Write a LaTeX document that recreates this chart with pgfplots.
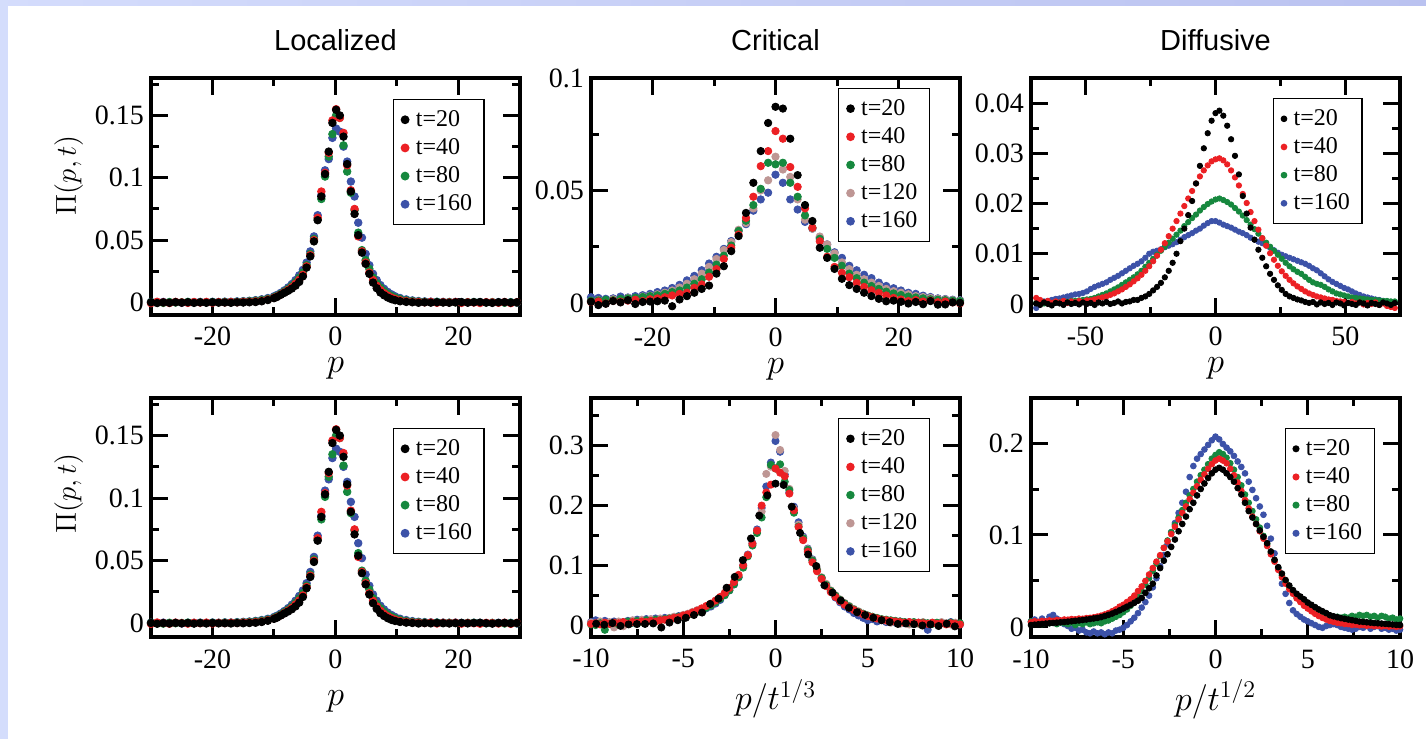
\documentclass[border=0pt]{standalone}
\usepackage{fontspec}
\setmainfont{Liberation Serif}
\newfontfamily\titlefont{Liberation Sans}
\usepackage{pgfplots}
\usepackage{pgfplotstable}
\pgfplotsset{compat=1.18}
\definecolor{cred}{RGB}{236,32,36}
\definecolor{cgreen}{RGB}{22,136,62}
\definecolor{cpink}{RGB}{190,150,148}
\definecolor{cblue}{RGB}{60,82,168}
\definecolor{bgl}{RGB}{212,221,252}
\definecolor{bgta}{RGB}{212,220,252}
\definecolor{bgtb}{RGB}{186,194,240}

\pgfplotsset{panel/.style={
  scale only axis, width=184.5pt,
  axis line style={line width=2pt, line cap=rect},
  tick style={line width=1.5pt, black},
  major tick length=8.5pt, minor tick length=4pt,
  tick align=inside,
  axis on top,
  scaled ticks=false,
  tick label style={font=\fontsize{14}{16}\selectfont},
  xticklabel style={anchor=base, yshift=-15.5pt, inner sep=0pt},
  xlabel style={at={(axis description cs:0.5,0)}, anchor=base, inner sep=0pt, font=\fontsize{16.5}{19}\selectfont},
  ylabel style={anchor=center, font=\fontsize{14}{16}\selectfont},
  title style={at={(axis description cs:0.5,1)}, anchor=base, yshift=8pt, font=\titlefont\fontsize{14.5}{17}\selectfont},
  legend cell align=left, reverse legend,
  legend style={anchor=north west, draw=black, line width=0.6pt, fill=white,
     inner xsep=4pt, inner ysep=3.3pt, row sep=0.6pt,
     font=\fontsize{12}{14}\selectfont,
     nodes={inner sep=2pt, text depth=0.15em},
     /tikz/every odd column/.append style={column sep=1.5pt}},
  legend image code/.code={\draw[#1] plot coordinates {(0pt,0pt)};},
}}

% Localized: p, t=20, t=40, t=80, t=160
\pgfplotstableread{
x b r g u
-30 0.0002 -0.0005 0.0003 0.0004
-29 -0.0004 0.0006 0.0001 0.0002
-28 0.0001 0.0002 -0.0003 0.0005
-27 -0.0002 -0.0004 0.0004 0.0001
-26 0.0003 0.0005 0.0000 0.0003
-25 -0.0001 0.0001 0.0002 -0.0002
-24 0.0002 -0.0003 0.0005 0.0004
-23 -0.0003 0.0004 0.0001 0.0003
-22 0.0001 0.0000 0.0003 0.0005
-21 -0.0002 0.0005 0.0002 0.0002
-20 0.0002 -0.0002 0.0004 0.0006
-19 -0.0001 0.0003 0.0003 0.0004
-18 0.0000 0.0001 0.0005 0.0007
-17 -0.0002 0.0004 0.0004 0.0006
-16 0.0001 0.0002 0.0006 0.0009
-15 0.0000 0.0005 0.0008 0.0011
-14 0.0002 0.0006 0.0011 0.0014
-13 0.0004 0.0009 0.0015 0.0019
-12 0.0010 0.0014 0.0021 0.0026
-11 0.0020 0.0024 0.0030 0.0036
-10 0.0035 0.0038 0.0043 0.0050
-9.5 0.0045 0.0048 0.0054 0.0061
-8.9 0.0062 0.0064 0.0070 0.0078
-8.3 0.0078 0.0082 0.0089 0.0098
-7.7 0.0094 0.0101 0.0110 0.0121
-7.1 0.0112 0.0123 0.0134 0.0148
-6.5 0.0135 0.0150 0.0163 0.0180
-5.9 0.0165 0.0182 0.0198 0.0218
-5.3 0.0210 0.0222 0.0240 0.0262
-4.7 0.0280 0.0290 0.0300 0.0320
-4.1 0.0370 0.0380 0.0390 0.0410
-3.5 0.0490 0.0500 0.0510 0.0530
-2.9 0.0660 0.0680 0.0670 0.0700
-2.3 0.0850 0.0890 0.0830 0.0860
-1.7 0.1030 0.1040 0.1010 0.1060
-1.1 0.1210 0.1200 0.1170 0.1150
-0.5 0.1440 0.1460 0.1350 0.1320
0.1 0.1545 0.1550 0.1500 0.1395
0.7 0.1500 0.1480 0.1480 0.1370
1.3 0.1330 0.1360 0.1260 0.1250
1.9 0.1110 0.1100 0.1050 0.1130
2.5 0.0890 0.0900 0.0880 0.0970
3.1 0.0710 0.0750 0.0740 0.0850
3.7 0.0540 0.0530 0.0560 0.0640
4.3 0.0400 0.0410 0.0420 0.0520
4.9 0.0310 0.0320 0.0340 0.0390
5.5 0.0230 0.0240 0.0270 0.0300
6.1 0.0160 0.0180 0.0200 0.0230
6.7 0.0115 0.0135 0.0155 0.0180
7.3 0.0080 0.0100 0.0120 0.0140
7.9 0.0058 0.0075 0.0092 0.0110
8.5 0.0040 0.0055 0.0070 0.0085
9.1 0.0027 0.0040 0.0053 0.0066
9.7 0.0018 0.0028 0.0040 0.0050
10.5 0.0010 0.0018 0.0028 0.0036
11.5 0.0005 0.0011 0.0018 0.0025
12.5 0.0002 0.0006 0.0012 0.0017
13.5 -0.0002 0.0004 0.0008 0.0012
14.5 0.0001 0.0002 0.0006 0.0009
15.5 -0.0001 0.0005 0.0004 0.0007
16.5 0.0002 -0.0002 0.0005 0.0006
17.5 0.0000 0.0003 0.0003 0.0005
18.5 -0.0002 0.0001 0.0004 0.0004
19.5 0.0001 0.0004 0.0002 0.0005
20.5 0.0003 -0.0003 0.0001 0.0003
21.5 -0.0001 0.0002 0.0003 0.0002
22.5 0.0002 0.0000 0.0004 0.0004
23.5 0.0004 -0.0004 0.0002 0.0003
24.5 0.0000 0.0003 0.0000 0.0001
25.5 -0.0003 0.0001 0.0003 0.0002
26.5 0.0002 -0.0002 0.0001 0.0004
27.5 0.0003 0.0004 -0.0002 0.0001
28.5 -0.0001 -0.0005 0.0002 0.0003
29.5 0.0002 0.0003 0.0000 -0.0002
}\tLoc

% Critical, top: p, t=20, 40, 80, 120, 160
\pgfplotstableread{
x b r g k u
-30.0 0.0005 0.0004 0.0010 0.0008 0.0025
-28.8 -0.0010 0.0006 0.0011 0.0012 0.0022
-27.6 -0.0004 -0.0003 0.0014 0.0010 0.0018
-26.4 0.0008 0.0009 0.0012 0.0016 0.0020
-25.2 0.0002 0.0005 0.0018 0.0014 0.0028
-24.0 0.0012 0.0010 0.0020 0.0022 0.0024
-22.8 -0.0005 0.0014 0.0023 0.0020 0.0030
-21.6 0.0004 0.0008 0.0026 0.0028 0.0034
-20.4 0.0006 0.0016 0.0030 0.0032 0.0040
-19.2 0.0007 0.0020 0.0034 0.0038 0.0048
-18.0 0.0010 0.0025 0.0040 0.0045 0.0055
-16.8 -0.0015 0.0033 0.0048 0.0055 0.0066
-15.6 0.0015 0.0040 0.0055 0.0068 0.0080
-14.4 0.0030 0.0045 0.0068 0.0085 0.0100
-13.2 0.0045 0.0067 0.0085 0.0105 0.0120
-12.0 0.0062 0.0082 0.0105 0.0130 0.0145
-10.8 0.0077 0.0116 0.0135 0.0160 0.0175
-9.6 0.0130 0.0150 0.0170 0.0195 0.0205
-8.4 0.0163 0.0195 0.0210 0.0235 0.0240
-7.2 0.0230 0.0245 0.0255 0.0270 0.0275
-6.0 0.0297 0.0304 0.0320 0.0325 0.0320
-4.8 0.0400 0.0378 0.0365 0.0355 0.0350
-3.6 0.0534 0.0472 0.0435 0.0420 0.0410
-2.4 0.0675 0.0608 0.0507 0.0500 0.0460
-1.2 0.0800 0.0675 0.0623 0.0545 0.0490
0.0 0.0872 0.0764 0.0616 0.0650 0.0570
1.2 0.0864 0.0730 0.0623 0.0593 0.0534
2.4 0.0730 0.0604 0.0534 0.0560 0.0460
3.6 0.0568 0.0516 0.0472 0.0460 0.0415
4.8 0.0435 0.0420 0.0389 0.0370 0.0360
6.0 0.0364 0.0334 0.0334 0.0330 0.0330
7.2 0.0245 0.0274 0.0285 0.0295 0.0290
8.4 0.0200 0.0205 0.0240 0.0260 0.0260
9.6 0.0151 0.0160 0.0200 0.0220 0.0225
10.8 0.0107 0.0134 0.0165 0.0180 0.0200
12.0 0.0079 0.0114 0.0130 0.0150 0.0165
13.2 0.0062 0.0089 0.0110 0.0125 0.0145
14.4 0.0045 0.0071 0.0090 0.0105 0.0125
15.6 0.0030 0.0056 0.0075 0.0090 0.0110
16.8 0.0018 0.0045 0.0062 0.0075 0.0090
18.0 0.0007 0.0033 0.0050 0.0062 0.0075
19.2 0.0010 0.0022 0.0042 0.0052 0.0065
20.4 0.0005 0.0015 0.0035 0.0045 0.0055
21.6 -0.0003 0.0008 0.0028 0.0038 0.0045
22.8 0.0004 0.0012 0.0024 0.0030 0.0040
24.0 -0.0006 0.0006 0.0020 0.0026 0.0032
25.2 0.0008 0.0010 0.0016 0.0022 0.0026
26.4 -0.0008 0.0003 0.0014 0.0018 0.0020
27.6 -0.0007 0.0006 0.0012 0.0015 0.0017
28.8 0.0002 0.0002 0.0010 0.0012 0.0014
30.0 0.0000 -0.0002 0.0008 0.0010 0.0012
}\tCrit

% Diffusive, top: p, t=20, 40, 80, 160
\pgfplotstableread{
x b r g u
-69 0.0001 0.0012 0.0002 -0.0008
-67.5 -0.0002 0.0008 0.0004 0.0003
-66 0.0003 0.0004 0.0001 0.0005
-64.5 0.0000 0.0006 0.0003 0.0006
-63 -0.0003 0.0002 0.0002 0.0008
-61.5 0.0002 0.0005 0.0004 0.0010
-60 0.0001 0.0003 0.0003 0.0011
-58.5 -0.0002 0.0006 0.0005 0.0013
-57 0.0003 0.0002 0.0004 0.0015
-55.5 0.0000 0.0005 0.0006 0.0017
-54 0.0002 0.0003 0.0006 0.0019
-52.5 -0.0001 0.0006 0.0007 0.0020
-51 0.0003 0.0004 0.0008 0.0022
-49.5 0.0000 0.0007 0.0009 0.0025
-48 0.0002 0.0007 0.0010 0.0030
-46.5 -0.0002 0.0009 0.0012 0.0034
-45 0.0003 0.0011 0.0015 0.0037
-43.5 0.0001 0.0013 0.0018 0.0040
-42 0.0004 0.0015 0.0021 0.0043
-40.5 0.0000 0.0018 0.0025 0.0048
-39 0.0002 0.0021 0.0029 0.0052
-37.5 0.0005 0.0025 0.0033 0.0056
-36 0.0001 0.0029 0.0038 0.0061
-34.5 0.0004 0.0034 0.0043 0.0066
-33 0.0005 0.0039 0.0048 0.0071
-31.5 0.0008 0.0045 0.0053 0.0076
-30 0.0008 0.0051 0.0059 0.0080
-28.5 0.0012 0.0058 0.0066 0.0085
-27 0.0015 0.0066 0.0074 0.0092
-25.5 0.0020 0.0075 0.0082 0.0100
-24 0.0027 0.0085 0.0090 0.0104
-22.5 0.0034 0.0096 0.0098 0.0106
-21 0.0042 0.0108 0.0106 0.0109
-19.5 0.0053 0.0121 0.0114 0.0113
-18 0.0066 0.0135 0.0122 0.0116
-16.5 0.0082 0.0150 0.0130 0.0119
-15 0.0100 0.0165 0.0138 0.0123
-13.5 0.0125 0.0180 0.0146 0.0128
-12 0.0150 0.0195 0.0155 0.0133
-10.5 0.0177 0.0210 0.0163 0.0137
-9 0.0205 0.0225 0.0171 0.0141
-7.5 0.0240 0.0240 0.0178 0.0146
-6 0.0275 0.0254 0.0186 0.0150
-4.5 0.0310 0.0266 0.0193 0.0156
-3 0.0340 0.0276 0.0199 0.0161
-1.5 0.0365 0.0284 0.0204 0.0165
0 0.0380 0.0288 0.0208 0.0165
1.5 0.0385 0.0290 0.0210 0.0162
3 0.0375 0.0286 0.0207 0.0158
4.5 0.0355 0.0278 0.0203 0.0155
6 0.0328 0.0266 0.0198 0.0152
7.5 0.0295 0.0252 0.0191 0.0148
9 0.0258 0.0236 0.0184 0.0144
10.5 0.0215 0.0219 0.0176 0.0141
12 0.0180 0.0201 0.0167 0.0137
13.5 0.0152 0.0183 0.0158 0.0132
15 0.0128 0.0165 0.0149 0.0128
16.5 0.0108 0.0148 0.0140 0.0124
18 0.0092 0.0131 0.0131 0.0121
19.5 0.0075 0.0116 0.0122 0.0117
21 0.0060 0.0101 0.0114 0.0112
22.5 0.0048 0.0088 0.0106 0.0107
24 0.0037 0.0076 0.0098 0.0102
25.5 0.0028 0.0065 0.0090 0.0098
27 0.0020 0.0056 0.0082 0.0095
28.5 0.0015 0.0048 0.0075 0.0092
30 0.0012 0.0041 0.0069 0.0089
31.5 0.0009 0.0035 0.0064 0.0086
33 0.0007 0.0030 0.0060 0.0083
34.5 0.0004 0.0025 0.0054 0.0080
36 0.0002 0.0021 0.0048 0.0076
37.5 0.0004 0.0018 0.0043 0.0071
39 -0.0001 0.0015 0.0040 0.0067
40.5 0.0003 0.0013 0.0038 0.0061
42 0.0000 0.0011 0.0034 0.0055
43.5 0.0002 0.0009 0.0029 0.0049
45 -0.0002 0.0008 0.0025 0.0044
46.5 0.0003 0.0006 0.0021 0.0040
48 0.0001 0.0005 0.0019 0.0036
49.5 -0.0003 0.0004 0.0017 0.0032
51 0.0002 0.0002 0.0015 0.0029
52.5 0.0000 0.0004 0.0013 0.0025
54 -0.0002 0.0001 0.0012 0.0021
55.5 0.0003 0.0003 0.0011 0.0018
57 0.0001 -0.0001 0.0010 0.0015
58.5 -0.0003 0.0002 0.0009 0.0013
60 0.0002 0.0000 0.0008 0.0011
61.5 0.0000 0.0003 0.0008 0.0009
63 -0.0002 -0.0002 0.0007 0.0008
64.5 0.0003 0.0001 0.0006 0.0006
66 0.0001 -0.0004 0.0006 0.0005
67.5 -0.0002 -0.0006 0.0005 0.0004
69 0.0002 -0.0008 0.0005 0.0003
}\tDiff

% Critical, rescaled, t=20
\pgfplotstableread{
x y
-9.72 0.0022
-9.28 0.0005
-8.84 0.0033
-8.40 -0.0014
-7.96 0.0011
-7.51 0.0016
-7.07 0.0019
-6.63 0.0027
-6.19 -0.0041
-5.75 0.0041
-5.30 0.0081
-4.86 0.0122
-4.42 0.0168
-3.98 0.0209
-3.54 0.0353
-3.09 0.0442
-2.65 0.0624
-2.21 0.0806
-1.77 0.1086
-1.33 0.1449
-0.88 0.1832
-0.44 0.2171
0.00 0.2367
0.44 0.2345
0.88 0.1981
1.33 0.1542
1.77 0.1181
2.21 0.0988
2.65 0.0665
3.09 0.0543
3.54 0.0410
3.98 0.0290
4.42 0.0214
4.86 0.0168
5.30 0.0122
5.75 0.0081
6.19 0.0049
6.63 0.0019
7.07 0.0027
7.51 0.0014
7.96 -0.0008
8.40 0.0011
8.84 -0.0016
9.28 0.0022
9.72 -0.0022
}\tCbB

% Critical, rescaled, t=40, 80, 120, 160
\pgfplotstableread{
x r g k u
-10 0.002 0.001 0.004 0.005
-9.75 0.003 0.000 0.001 0.008
-9.5 0.001 0.003 0.006 0.004
-9.25 0.004 -0.008 0.003 0.007
-9 0.002 0.002 0.005 0.003
-8.75 0.004 0.004 -0.004 0.006
-8.5 0.003 0.001 0.006 0.002
-8.25 0.005 0.004 -0.002 0.005
-8 0.002 0.006 0.005 0.007
-7.75 0.005 0.004 0.008 0.004
-7.5 0.004 0.007 0.003 0.009
-7.25 0.006 0.005 0.009 0.006
-7 0.005 0.008 0.006 0.010
-6.75 0.007 0.006 0.010 0.007
-6.5 0.006 0.009 0.008 0.011
-6.25 0.008 0.008 0.011 0.009
-6 0.009 0.010 0.009 0.012
-5.75 0.010 0.011 0.012 0.010
-5.5 0.012 0.012 0.014 0.013
-5.25 0.013 0.014 0.013 0.015
-5 0.016 0.015 0.017 0.016
-4.75 0.018 0.017 0.019 0.018
-4.5 0.021 0.019 0.022 0.020
-4.25 0.024 0.022 0.025 0.023
-4 0.028 0.026 0.027 0.025
-3.75 0.032 0.029 0.030 0.028
-3.5 0.036 0.033 0.034 0.031
-3.25 0.041 0.038 0.040 0.036
-3 0.047 0.044 0.046 0.042
-2.75 0.054 0.050 0.052 0.050
-2.5 0.062 0.058 0.060 0.058
-2.25 0.072 0.068 0.070 0.068
-2 0.084 0.080 0.082 0.080
-1.75 0.100 0.096 0.098 0.100
-1.5 0.117 0.115 0.117 0.118
-1.25 0.136 0.133 0.136 0.137
-1 0.158 0.154 0.158 0.160
-0.75 0.200 0.180 0.190 0.196
-0.5 0.222 0.214 0.253 0.232
-0.25 0.235 0.268 0.265 0.272
0 0.262 0.262 0.318 0.308
0.25 0.255 0.269 0.293 0.290
0.5 0.249 0.240 0.258 0.252
0.75 0.220 0.226 0.228 0.222
1 0.192 0.188 0.195 0.198
1.25 0.164 0.165 0.168 0.172
1.5 0.142 0.145 0.146 0.148
1.75 0.123 0.126 0.127 0.128
2 0.105 0.108 0.109 0.110
2.25 0.090 0.092 0.094 0.093
2.5 0.077 0.079 0.080 0.079
2.75 0.065 0.067 0.069 0.066
3 0.055 0.057 0.058 0.056
3.25 0.047 0.049 0.050 0.046
3.5 0.040 0.042 0.043 0.038
3.75 0.034 0.036 0.037 0.031
4 0.029 0.031 0.032 0.026
4.25 0.025 0.026 0.027 0.020
4.5 0.021 0.022 0.023 0.016
4.75 0.018 0.019 0.019 0.012
5 0.015 0.016 0.016 0.008
5.25 0.013 0.014 0.013 0.010
5.5 0.011 0.012 0.011 0.006
5.75 0.009 0.010 0.009 0.008
6 0.008 0.009 0.007 0.005
6.25 0.007 0.008 0.004 0.007
6.5 0.006 0.007 0.006 0.004
6.75 0.005 0.006 0.002 0.006
7 0.004 0.005 0.005 0.003
7.25 0.005 0.004 0.001 0.005
7.5 0.003 0.005 0.004 0.002
7.75 0.004 0.003 0.002 0.004
8 0.003 0.004 0.005 0.001
8.25 0.002 0.003 0.003 -0.008
8.5 0.004 0.002 0.004 0.003
8.75 0.002 0.004 0.002 0.002
9 0.003 0.003 0.005 0.004
9.25 0.001 0.002 0.003 0.002
9.5 0.003 0.004 0.001 0.005
9.75 0.002 0.002 0.004 0.003
10 0.001 0.003 0.002 0.001
}\tCbO

% Diffusive, rescaled: t=20, 40, 80, 160
\pgfplotstableread{
x b r g u
-10.0 0.0020 0.0050 0.006 0.006
-9.8 0.0024 0.0060 0.004 0.008
-9.6 0.0028 0.0055 0.005 0.004
-9.4 0.0032 0.0065 0.003 0.009
-9.2 0.0036 0.0060 0.005 0.006
-9.0 0.0040 0.0070 0.004 0.011
-8.8 0.0043 0.0065 0.006 0.013
-8.6 0.0046 0.0075 0.003 0.009
-8.4 0.0050 0.0070 0.005 0.006
-8.2 0.0053 0.0080 0.004 0.003
-8.0 0.0057 0.0078 0.003 0.001
-7.8 0.0061 0.0085 0.005 -0.002
-7.6 0.0066 0.0082 0.002 -0.001
-7.4 0.0070 0.0090 0.004 -0.004
-7.2 0.0075 0.0088 0.003 -0.003
-7.0 0.0080 0.0095 0.005 -0.006
-6.8 0.0086 0.0098 0.003 -0.007
-6.6 0.0092 0.0104 0.004 -0.005
-6.4 0.0098 0.0112 0.005 -0.007
-6.2 0.0106 0.0122 0.004 -0.006
-6.0 0.0118 0.0135 0.006 -0.008
-5.8 0.0131 0.0150 0.007 -0.006
-5.6 0.0145 0.0170 0.009 -0.007
-5.4 0.0162 0.0190 0.011 -0.004
-5.2 0.0180 0.0220 0.013 -0.003
-5.0 0.0200 0.0240 0.016 -0.001
-4.8 0.0220 0.0270 0.019 0.002
-4.6 0.0240 0.0300 0.023 0.006
-4.4 0.0262 0.0340 0.028 0.010
-4.2 0.0285 0.0390 0.033 0.015
-4.0 0.0315 0.0440 0.039 0.021
-3.8 0.0370 0.0500 0.046 0.027
-3.6 0.0420 0.0570 0.053 0.034
-3.4 0.0470 0.0640 0.061 0.043
-3.2 0.0560 0.0710 0.069 0.053
-3.0 0.0640 0.0780 0.077 0.066
-2.8 0.0720 0.0860 0.086 0.078
-2.6 0.0790 0.0930 0.094 0.090
-2.4 0.0870 0.1010 0.103 0.103
-2.2 0.0950 0.1090 0.111 0.113
-2.0 0.1040 0.1170 0.119 0.124
-1.8 0.1120 0.1240 0.127 0.135
-1.6 0.1200 0.1310 0.135 0.147
-1.4 0.1280 0.1390 0.143 0.163
-1.2 0.1350 0.1460 0.150 0.175
-1.0 0.1430 0.1530 0.158 0.183
-0.8 0.1500 0.1600 0.165 0.188
-0.6 0.1560 0.1660 0.171 0.193
-0.4 0.1620 0.1720 0.177 0.198
-0.2 0.1670 0.1770 0.183 0.203
0.0 0.1710 0.1810 0.187 0.207
0.2 0.1730 0.1830 0.190 0.204
0.4 0.1710 0.1810 0.188 0.199
0.6 0.1670 0.1780 0.184 0.195
0.8 0.1630 0.1720 0.178 0.191
1.0 0.1580 0.1650 0.171 0.186
1.2 0.1510 0.1570 0.163 0.180
1.4 0.1440 0.1480 0.154 0.174
1.6 0.1350 0.1380 0.144 0.167
1.8 0.1260 0.1290 0.135 0.158
2.0 0.1190 0.1200 0.126 0.149
2.2 0.1120 0.1120 0.117 0.140
2.4 0.1050 0.1040 0.108 0.131
2.6 0.0980 0.0960 0.099 0.122
2.8 0.0910 0.0880 0.090 0.110
3.0 0.0820 0.0790 0.081 0.096
3.2 0.0730 0.0710 0.072 0.080
3.4 0.0650 0.0620 0.064 0.064
3.6 0.0580 0.0540 0.056 0.047
3.8 0.0510 0.0470 0.049 0.036
4.0 0.0450 0.0410 0.043 0.026
4.2 0.0400 0.0360 0.037 0.018
4.4 0.0360 0.0310 0.032 0.014
4.6 0.0330 0.0270 0.028 0.011
4.8 0.0300 0.0230 0.025 0.008
5.0 0.0265 0.0200 0.022 0.006
5.2 0.0240 0.0170 0.019 0.004
5.4 0.0215 0.0142 0.017 0.002
5.6 0.0190 0.0118 0.015 0.000
5.8 0.0170 0.0098 0.014 -0.001
6.0 0.0150 0.0080 0.013 0.001
6.2 0.0127 0.0065 0.012 0.002
6.4 0.0115 0.0055 0.011 0.003
6.6 0.0105 0.0045 0.011 0.002
6.8 0.0095 0.0040 0.010 0.000
7.0 0.0088 0.0032 0.011 -0.001
7.2 0.0080 0.0030 0.010 -0.002
7.4 0.0073 0.0022 0.012 -0.003
7.6 0.0066 0.0025 0.011 -0.002
7.8 0.0058 0.0018 0.013 0.000
8.0 0.0054 0.0020 0.012 -0.001
8.2 0.0050 0.0012 0.013 0.001
8.4 0.0046 0.0016 0.011 -0.002
8.6 0.0042 0.0008 0.012 0.000
8.8 0.0039 0.0012 0.010 0.001
9.0 0.0036 0.0005 0.012 -0.002
9.2 0.0033 0.0010 0.011 -0.001
9.4 0.0030 0.0003 0.009 -0.003
9.6 0.0026 0.0008 0.010 -0.002
9.8 0.0022 0.0000 0.008 -0.004
10.0 0.0020 0.0006 0.009 -0.003
}\tDb

\begin{document}
\begin{tikzpicture}
\useasboundingbox (0,0) rectangle (713pt,-369.5pt);
\fill[white] (0,0) rectangle (713pt,-369.5pt);
\shade[left color=bgta, right color=bgtb] (0,0) rectangle (713pt,-2.5pt);
\fill[bgl] (0,0) rectangle (4pt,-369.5pt);

% ---------- Localized (top)
\begin{axis}[panel, at={(75.5pt,-39pt)}, anchor=north west, height=118.5pt,
  xmin=-30, xmax=30, ymin=-0.01, ymax=0.18,
  xtick={-20,0,20}, xticklabels={-20,0,20}, minor xtick={-10,10},
  ytick={0,0.05,0.1,0.15}, yticklabels={0,0.05,0.1,0.15}, minor ytick={0.025,0.075,0.125,0.175},
  title={Localized}, xlabel={$p$}, ylabel={$\Pi(p,t)$},
  xlabel style={yshift=-29pt},
  ylabel style={at={(axis description cs:-0.223,0.59)}},
  every axis plot/.append style={only marks, mark=*, mark size=1.9pt},
  legend style={at={(0.655,0.911)}}]
\addplot[cblue] table[x=x,y=u]{\tLoc}; \addlegendentry{t=160}
\addplot[cgreen] table[x=x,y=g]{\tLoc}; \addlegendentry{t=80}
\addplot[cred] table[x=x,y=r]{\tLoc}; \addlegendentry{t=40}
\addplot[black] table[x=x,y=b]{\tLoc}; \addlegendentry{t=20}
\end{axis}

% ---------- Critical (top)
\begin{axis}[panel, at={(295.5pt,-39pt)}, anchor=north west, height=118.5pt,
  xmin=-30, xmax=30, ymin=-0.0054, ymax=0.1,
  xtick={-20,0,20}, xticklabels={-20,0,20}, minor xtick={-10,10},
  ytick={0,0.05,0.1}, yticklabels={0,0.05,0.1}, minor ytick={0.025,0.075},
  title={Critical}, xlabel={$p$},
  xlabel style={yshift=-29pt},
  every axis plot/.append style={only marks, mark=*, mark size=1.85pt},
  legend style={at={(0.670,0.958)}}]
\addplot[cblue] table[x=x,y=u]{\tCrit}; \addlegendentry{t=160}
\addplot[cpink] table[x=x,y=k]{\tCrit}; \addlegendentry{t=120}
\addplot[cgreen] table[x=x,y=g]{\tCrit}; \addlegendentry{t=80}
\addplot[cred] table[x=x,y=r]{\tCrit}; \addlegendentry{t=40}
\addplot[black] table[x=x,y=b]{\tCrit}; \addlegendentry{t=20}
\end{axis}

% ---------- Diffusive (top)
\begin{axis}[panel, at={(515.5pt,-39pt)}, anchor=north west, height=118.5pt,
  xmin=-71, xmax=71, ymin=-0.0022, ymax=0.045,
  xtick={-50,0,50}, xticklabels={-50,0,50}, minor xtick={-25,25},
  ytick={0,0.01,0.02,0.03,0.04}, yticklabels={0,0.01,0.02,0.03,0.04},
  minor ytick={0.005,0.015,0.025,0.035},
  title={Diffusive}, xlabel={$p$},
  xlabel style={yshift=-29pt},
  every axis plot/.append style={only marks, mark=*, mark size=1.35pt},
  legend style={at={(0.655,0.915)}}]
\addplot[cblue] table[x=x,y=u]{\tDiff}; \addlegendentry{t=160}
\addplot[cgreen] table[x=x,y=g]{\tDiff}; \addlegendentry{t=80}
\addplot[cred] table[x=x,y=r]{\tDiff}; \addlegendentry{t=40}
\addplot[black] table[x=x,y=b]{\tDiff}; \addlegendentry{t=20}
\end{axis}

% ---------- Localized (bottom)
\begin{axis}[panel, at={(75.5pt,-199pt)}, anchor=north west, height=119.5pt,
  xmin=-30, xmax=30, ymin=-0.011, ymax=0.18,
  xtick={-20,0,20}, xticklabels={-20,0,20}, minor xtick={-10,10},
  ytick={0,0.05,0.1,0.15}, yticklabels={0,0.05,0.1,0.15}, minor ytick={0.025,0.075,0.125,0.175},
  xlabel={$p$}, ylabel={$\Pi(p,t)$},
  xlabel style={yshift=-34pt},
  ylabel style={at={(axis description cs:-0.223,0.60)}},
  every axis plot/.append style={only marks, mark=*, mark size=1.9pt},
  legend style={at={(0.655,0.874)}}]
\addplot[cblue] table[x=x,y=u]{\tLoc}; \addlegendentry{t=160}
\addplot[cgreen] table[x=x,y=g]{\tLoc}; \addlegendentry{t=80}
\addplot[cred] table[x=x,y=r]{\tLoc}; \addlegendentry{t=40}
\addplot[black] table[x=x,y=b]{\tLoc}; \addlegendentry{t=20}
\end{axis}

% ---------- Critical (bottom)
\begin{axis}[panel, at={(295.5pt,-199pt)}, anchor=north west, height=119.5pt,
  xmin=-10, xmax=10, ymin=-0.02, ymax=0.38,
  xtick={-10,-5,0,5,10}, xticklabels={-10,-5,0,5,10}, minor xtick={-7.5,-2.5,2.5,7.5},
  ytick={0,0.1,0.2,0.3}, yticklabels={0,0.1,0.2,0.3}, minor ytick={0.05,0.15,0.25,0.35},
  xlabel={$p/t^{1/3}$},
  xlabel style={yshift=-36.5pt},
  every axis plot/.append style={only marks, mark=*, mark size=1.8pt},
  legend style={at={(0.670,0.916)}}]
\addplot[cblue] table[x=x,y=u]{\tCbO}; \addlegendentry{t=160}
\addplot[cpink] table[x=x,y=k]{\tCbO}; \addlegendentry{t=120}
\addplot[cgreen] table[x=x,y=g]{\tCbO}; \addlegendentry{t=80}
\addplot[cred] table[x=x,y=r]{\tCbO}; \addlegendentry{t=40}
\addplot[black] table[x=x,y=y]{\tCbB}; \addlegendentry{t=20}
\end{axis}

% ---------- Diffusive (bottom)
\begin{axis}[panel, at={(515.5pt,-199pt)}, anchor=north west, height=119.5pt,
  xmin=-10, xmax=10, ymin=-0.011, ymax=0.249,
  xtick={-10,-5,0,5,10}, xticklabels={-10,-5,0,5,10}, minor xtick={-7.5,-2.5,2.5,7.5},
  ytick={0,0.1,0.2}, yticklabels={0,0.1,0.2}, minor ytick={0.05,0.15},
  xlabel={$p/t^{1/2}$},
  xlabel style={yshift=-36.5pt},
  every axis plot/.append style={only marks, mark=*, mark size=1.45pt},
  legend style={at={(0.687,0.874)}}]
\addplot[cblue] table[x=x,y=u]{\tDb}; \addlegendentry{t=160}
\addplot[cgreen] table[x=x,y=g]{\tDb}; \addlegendentry{t=80}
\addplot[cred] table[x=x,y=r]{\tDb}; \addlegendentry{t=40}
\addplot[black] table[x=x,y=b]{\tDb}; \addlegendentry{t=20}
\end{axis}
\end{tikzpicture}
\end{document}
